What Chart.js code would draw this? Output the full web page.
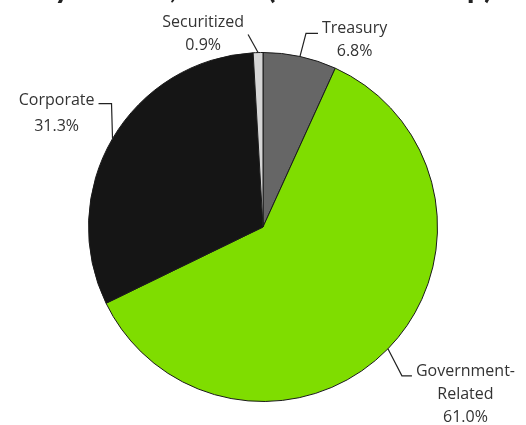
<!DOCTYPE html>
<html lang="en">
<head>
    <meta charset="UTF-8">
    <title>Sector Pie Chart</title>
    <style>
        html, body {
            margin: 0;
            padding: 0;
            background: #fff;
        }
        .chart-container {
            width: 526px;
            height: 425px;
        }
    </style>
    <script src="https://cdn.jsdelivr.net/npm/chart.js"></script>
</head>
<body>
    <div class="chart-container">
        <canvas id="sectorChart" width="526" height="425"></canvas>
    </div>

    <script>
        // Sector data (percent)
        const sectors = ['Treasury', 'Government-Related', 'Corporate', 'Securitized'];
        const labelLines = [['Treasury'], ['Government-', 'Related'], ['Corporate'], ['Securitized']];
        const shares = [6.8, 61.0, 31.3, 0.9];
        const sliceColors = ['#666666', '#7fdd00', '#151515', '#d6d6d6'];

        // Title is cut off at the top edge in the original, only descenders show
        const titleText = 'By Sector, 2023 (Share of Comp)';

        // leader line: offset of elbow from slice edge, horizontal tail length
        const leaders = [
            { dx: 6, dy: -23, tail: 12, side: 'right', top: -5, step: 23 },
            { dx: 14, dy: 27, tail: 10, side: 'right', top: -4, step: 23 },
            { dx: -1, dy: -35, tail: -13, side: 'left', top: -3, step: 26 },
            { dx: -10, dy: -18, tail: 0, side: 'left', top: -12, step: 23 }
        ];

        const titlePlugin = {
            id: 'cutTitle',
            afterDraw(chart) {
                const c = chart.ctx;
                c.save();
                c.font = 'bold 32px Lato, sans-serif';
                c.fillStyle = '#222';
                c.textAlign = 'center';
                c.textBaseline = 'alphabetic';
                c.fillText(titleText, 263, -2.5);
                c.restore();
            }
        };

        const leaderLabels = {
            id: 'leaderLabels',
            afterDraw(chart) {
                const c = chart.ctx;
                const meta = chart.getDatasetMeta(0);
                c.save();
                c.font = '16px "Open Sans", sans-serif';
                c.fillStyle = '#333';
                c.strokeStyle = '#222';
                c.lineWidth = 1.2;
                c.textBaseline = 'middle';
                meta.data.forEach((arc, i) => {
                    const p = arc.getProps(['x', 'y', 'startAngle', 'endAngle', 'outerRadius'], true);
                    const mid = (p.startAngle + p.endAngle) / 2;
                    const ex = p.x + Math.cos(mid) * p.outerRadius;
                    const ey = p.y + Math.sin(mid) * p.outerRadius;
                    const L = leaders[i];
                    const bx = ex + L.dx, by = ey + L.dy;
                    const tx = bx + L.tail;
                    c.beginPath();
                    c.moveTo(ex, ey);
                    c.lineTo(bx, by);
                    c.lineTo(tx, by);
                    c.stroke();

                    const lines = labelLines[i].concat([shares[i].toFixed(1) + '%']);
                    const w = Math.max(...lines.map(t => c.measureText(t).width));
                    const cx = L.side === 'right' ? tx + 4 + w / 2 : tx - 4 - w / 2;
                    c.textAlign = 'center';
                    lines.forEach((t, k) => c.fillText(t, cx, by + L.top + k * L.step));
                });
                c.restore();
            }
        };

        const ctx = document.getElementById('sectorChart').getContext('2d');
        const sectorChart = new Chart(ctx, {
            type: 'pie',
            data: {
                labels: sectors,
                datasets: [{
                    data: shares,
                    backgroundColor: sliceColors,
                    borderColor: '#1a1a1a',
                    borderWidth: 1
                }]
            },
            options: {
                responsive: false,
                animation: false,
                layout: {
                    padding: { top: 52, bottom: 23, left: 0, right: 0 }
                },
                plugins: {
                    legend: { display: false },
                    tooltip: { enabled: false }
                }
            },
            plugins: [leaderLabels, titlePlugin]
        });
    </script>
</body>
</html>
